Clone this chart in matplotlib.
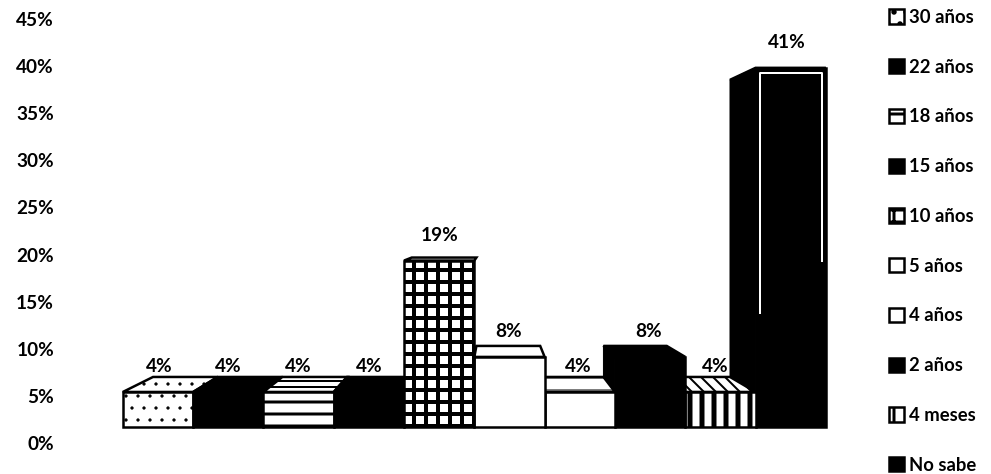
import matplotlib
matplotlib.use("Agg")
import matplotlib.pyplot as plt
from matplotlib.patches import Polygon

plt.rcParams['font.family'] = ['Lato', 'DejaVu Sans']
plt.rcParams['font.weight'] = 'bold'
plt.rcParams['hatch.linewidth'] = 3

categories = ['30 años', '22 años', '18 años', '15 años', '10 años',
              '5 años', '4 años', '2 años', '4 meses', 'No sabe']
values = [4, 4, 4, 4, 19, 8, 4, 8, 4, 41]
axis_ticks = [0, 5, 10, 15, 20, 25, 30, 35, 40, 45]

# look of every bar, front face and top face
faces = ['white', 'black', 'white', 'black', 'white',
         'white', 'white', 'black', 'white', 'black']
hatches = ['.', None, '-', None, '+', None, None, None, '|', None]
hatch_widths = [0.8, 1, 3, 1, 4, 1, 1, 1, 5, 1]
top_hatches = ['.', None, '--', None, None, None, '-', None, '\\\\', None]
rises = [15, 15, 15, 15, 3, 11, 15, 11, 15, -12]  # px the back edge goes up
layer = [6, 7, 8, 9, 10, 5, 4, 3, 2, 1]  # 10 is on top
label_dx = [1, 0, 0, 0, 0, -1, -2, -2, -5, -4]

W, H = 991, 474
PX_PER_UNIT = 8.76
BAR_PX = 70.3
LEFT, RIGHT = 100, 850
TOP, BOTTOM = 19, 443
BASE = 427
FIRST = 158


def back_shift(x):
    # fake perspective, the back of the bars leans to the middle of the chart
    x_px = FIRST + x * BAR_PX
    k = 0.08 if x_px < 500 else 0.1
    return k * (500 - x_px) / BAR_PX


fig = plt.figure(figsize=(W / 72, H / 72), dpi=72)
pos = [LEFT / W, (H - BOTTOM) / H, (RIGHT - LEFT) / W, (BOTTOM - TOP) / H]

tick_ax = fig.add_axes(pos)
tick_ax.set_ylim(0, 45)
tick_ax.set_xticks([])
tick_ax.set_yticks(axis_ticks, [f'{t}%' for t in axis_ticks])
tick_ax.tick_params(axis='y', length=0, pad=46, labelsize=19)
for s in tick_ax.spines.values():
    s.set_visible(False)

ax = fig.add_axes(pos)
ax.patch.set_visible(False)
ax.set_xlim((LEFT - FIRST) / BAR_PX, (RIGHT - FIRST) / BAR_PX)
ax.set_ylim(-(BOTTOM - BASE) / PX_PER_UNIT, (BASE - TOP) / PX_PER_UNIT)
ax.axis('off')

handles = []
for i, (name, v) in enumerate(zip(categories, values)):
    z = 2 + layer[i]
    x0, x1 = i - 0.5, i + 0.5
    d0, d1 = back_shift(x0), back_shift(x1)
    r = rises[i] / PX_PER_UNIT

    if d0 < 0:
        ax.add_patch(Polygon([(x0, 0), (x0, v), (x0 + d0, v + r), (x0 + d0, 0)],
                             fc='black', ec='black', lw=1, zorder=z))
    top = Polygon([(x0, v), (x1, v), (x1 + d1, v + r), (x0 + d0, v + r)],
                  fc=faces[i], ec='black', lw=2.5,
                  hatch=top_hatches[i], zorder=z + 0.1)
    top.set_hatch_linewidth(min(hatch_widths[i], 2))
    ax.add_patch(top)
    bar = ax.bar(i, v, width=1, color=faces[i], edgecolor='black', linewidth=2.5,
                 hatch=hatches[i], label=name, zorder=z + 0.2)
    bar[0].set_hatch_linewidth(hatch_widths[i])
    handles.append(bar)
    ax.annotate(f'{v}%', (i, v), xytext=(label_dx[i], 25), textcoords='offset points',
                ha='center', va='center', fontsize=19, zorder=1)

# white inner outline of the last bar, it fades out lower down in the scan
ax.plot([8.56, 8.56, 9.44, 9.44],
        [values[9] - 28, values[9] - 0.6, values[9] - 0.6, values[9] - 22],
        color='white', lw=2, zorder=14)

ax.legend(handles=handles, loc='upper left', bbox_to_anchor=(889 / W, 1 - 9 / H),
          bbox_transform=fig.transFigure, frameon=False, fontsize=18.5,
          handlelength=0.8, handleheight=0.8, handletextpad=0.3,
          labelspacing=1.77, borderpad=0, borderaxespad=0)

fig.savefig('out.png', dpi=72)
